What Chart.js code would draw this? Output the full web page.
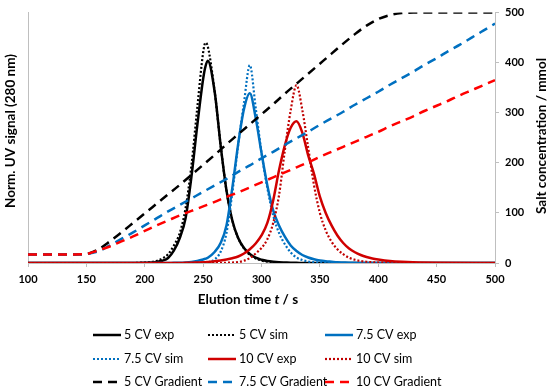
<!DOCTYPE html>
<html>
<head>
<meta charset="utf-8">
<title>Elution profiles</title>
<script src="https://cdn.jsdelivr.net/npm/chart.js@4.4.1/dist/chart.umd.min.js"></script>
<style>
  html, body { margin: 0; padding: 0; background: #fff; }
  #wrap { width: 550px; height: 392px; }
</style>
</head>
<body>
<div id="wrap"><canvas id="chart" width="550" height="392"></canvas></div>
<script>
// ── Data ─────────────────────────────────────────────────────
// elution time for the UV traces, s
const timePeak = [100, 150, 190, 195, 200, 205, 210, 215, 220, 225, 230, 235, 240, 245, 250, 252, 254,
  260, 265, 270, 275, 280, 285, 290, 295, 300, 305, 310, 315, 320, 325, 330, 335, 340, 345, 350,
  355, 360, 365, 370, 375, 380, 385, 390, 395, 400, 410, 420, 450, 500];

// normalised UV signal (left axis, 0..1)
const exp5 = [0, 0, 0, 0, 0.001, 0.002, 0.004, 0.009, 0.02, 0.05, 0.1, 0.18, 0.345, 0.55, 0.735, 0.785, 0.808,
  0.68, 0.47, 0.29, 0.17, 0.1, 0.06, 0.036, 0.021, 0.013, 0.008, 0.005, 0.003, 0.002, 0.001, 0.001,
  0, 0, 0, 0, 0, 0, 0, 0, 0, 0, 0, 0, 0, 0, 0, 0, 0, 0];
const sim5 = [0, 0, 0, 0.001, 0.002, 0.004, 0.008, 0.018, 0.035, 0.07, 0.12, 0.22, 0.39, 0.62, 0.84, 0.88, 0.865,
  0.68, 0.47, 0.29, 0.17, 0.1, 0.058, 0.033, 0.018, 0.01, 0.005, 0.002, 0.001,
  0, 0, 0, 0, 0, 0, 0, 0, 0, 0, 0, 0, 0, 0, 0, 0, 0, 0, 0, 0, 0, 0];
const exp75 = [0, 0, 0, 0, 0, 0, 0, 0, 0, 0.001, 0.001, 0.002, 0.004, 0.008, 0.014, 0.017, 0.021,
  0.045, 0.08, 0.15, 0.3, 0.475, 0.615, 0.678, 0.58, 0.44, 0.31, 0.21, 0.15, 0.105, 0.07, 0.048,
  0.032, 0.022, 0.015, 0.01, 0.007, 0.005, 0.003, 0.002, 0.001, 0.001, 0, 0, 0, 0, 0, 0, 0, 0];
const sim75 = [0, 0, 0, 0, 0, 0, 0, 0, 0, 0, 0, 0, 0, 0.001, 0.002, 0.003, 0.004,
  0.015, 0.045, 0.12, 0.28, 0.47, 0.64, 0.79, 0.62, 0.44, 0.3, 0.19, 0.12, 0.075, 0.042, 0.022,
  0.012, 0.006, 0.003, 0.001, 0, 0, 0, 0, 0, 0, 0, 0, 0, 0, 0, 0, 0, 0];
const exp10 = [0, 0, 0, 0, 0, 0, 0, 0, 0, 0, 0, 0.001, 0.001, 0.002, 0.003, 0.003, 0.004,
  0.007, 0.01, 0.014, 0.019, 0.026, 0.038, 0.055, 0.078, 0.11, 0.16, 0.25, 0.37, 0.47, 0.54, 0.566,
  0.52, 0.43, 0.355, 0.265, 0.2, 0.15, 0.11, 0.08, 0.058, 0.043, 0.032, 0.024, 0.018, 0.014,
  0.008, 0.005, 0.001, 0];
const sim10 = [0, 0, 0, 0, 0, 0, 0, 0, 0, 0, 0, 0, 0, 0, 0, 0, 0,
  0, 0, 0.001, 0.002, 0.004, 0.009, 0.02, 0.038, 0.06, 0.095, 0.16, 0.27, 0.45, 0.61, 0.71,
  0.61, 0.46, 0.31, 0.2, 0.13, 0.085, 0.055, 0.035, 0.021, 0.013, 0.008, 0.005, 0.003, 0.002,
  0.001, 0, 0, 0];

// salt gradients (right axis, mmol)
const timeGrad = [100, 110, 120, 130, 140, 150, 160, 170, 180, 190, 200, 210, 220, 230, 240, 250,
  260, 270, 280, 290, 300, 310, 320, 330, 340, 350, 360, 370, 380, 390, 400, 410, 420, 430, 440,
  450, 460, 470, 480, 490, 500];
const grad5 = [17, 17, 17, 17, 17, 18, 27, 43, 61, 80, 99, 118, 137, 156, 176, 196, 216, 237, 257, 277,
  297, 317, 338, 358, 378, 398, 418, 438, 457, 474, 487, 495, 499, 500, 500, 500, 500, 500, 500, 500, 500];
const grad75 = [17, 17, 17, 17, 17, 18, 23, 35, 48, 61, 75, 89, 103, 116, 129, 142, 155, 168, 182, 195,
  209, 222, 236, 249, 262, 276, 289, 302, 316, 329, 342, 356, 369, 382, 396, 409, 423, 436, 450, 464, 478];
const grad10 = [17, 17, 17, 17, 17, 18, 25, 33, 43, 53, 64, 75, 85, 95, 104, 113, 122, 132, 141, 151,
  161, 171, 181, 191, 201, 212, 222, 232, 242, 252, 262, 273, 283, 293, 304, 314, 324, 335, 345, 355, 365];

const xTicks = { min: 100, max: 500, step: 50 };
const y2Ticks = { min: 0, max: 500, step: 100 };

// ── Style ─────────────────────────────────────────────────────
const BLACK = '#000000';
const BLUE = '#0070C0';
const RED_EXP = '#D00000';
const RED_SIM = '#C00000';
const RED_GRAD = '#FF0000';
const AXIS_GRAY = '#bfbfbf';
const FONT = 'Lato, "Open Sans", sans-serif';

const LEGEND_COLS = [93, 208, 325];
const LEGEND_ROWS = [335, 359, 382];

function pts(xs, ys) {
  return xs.map((x, i) => ({ x, y: ys[i] }));
}

function expLine(label, data, color) {
  return { label, data: pts(timePeak, data), borderColor: color, borderWidth: 2.5,
    borderDash: [], yAxisID: 'y' };
}
function simLine(label, data, color) {
  return { label, data: pts(timePeak, data), borderColor: color, borderWidth: 2.2,
    borderDash: [2, 2], yAxisID: 'y' };
}
function gradLine(label, data, color) {
  return { label, data: pts(timeGrad, data), borderColor: color, borderWidth: 2.5,
    borderDash: [9, 6], yAxisID: 'y2' };
}

const datasets = [
  expLine('5 CV exp', exp5, BLACK),
  simLine('5 CV sim', sim5, BLACK),
  expLine('7.5 CV exp', exp75, BLUE),
  simLine('7.5 CV sim', sim75, BLUE),
  expLine('10 CV exp', exp10, RED_EXP),
  simLine('10 CV sim', sim10, RED_SIM),
  gradLine('5 CV Gradient', grad5, BLACK),
  gradLine('7.5 CV Gradient', grad75, BLUE),
  gradLine('10 CV Gradient', grad10, RED_GRAD)
];
// later series on top, like the original
datasets.forEach((d, i) => {
  d.order = datasets.length - i;
  d.pointRadius = 0;
  d.fill = false;
  d.cubicInterpolationMode = 'monotone';
});

// ── Titles + legend drawn on the canvas ──────────────────────
const decor = {
  id: 'decor',
  afterDraw(chart) {
    const ctx = chart.ctx;
    ctx.save();
    ctx.fillStyle = '#000';
    ctx.textBaseline = 'middle';
    ctx.textAlign = 'center';
    ctx.font = 'bold 13.5px ' + FONT;

    ctx.save();
    ctx.translate(11, 131);
    ctx.rotate(-Math.PI / 2);
    ctx.fillText('Norm. UV signal (280 nm)', 0, 0);
    ctx.restore();

    ctx.save();
    ctx.translate(542, 136);
    ctx.rotate(-Math.PI / 2);
    ctx.fillText('Salt concentration / mmol', 0, 0);
    ctx.restore();

    // x title with italic t
    const parts = [['Elution time ', 'bold'], ['t', 'italic bold'], [' / s', 'bold']];
    let total = 0;
    parts.forEach(p => { ctx.font = p[1] + ' 13.5px ' + FONT; total += ctx.measureText(p[0]).width; });
    let x = 248 - total / 2;
    ctx.textAlign = 'left';
    parts.forEach(p => {
      ctx.font = p[1] + ' 13.5px ' + FONT;
      ctx.fillText(p[0], x, 300);
      x += ctx.measureText(p[0]).width;
    });

    // legend, 3 per row
    chart.data.datasets.forEach((ds, i) => {
      const x0 = LEGEND_COLS[i % 3];
      const y0 = LEGEND_ROWS[Math.floor(i / 3)];
      ctx.beginPath();
      ctx.strokeStyle = ds.borderColor;
      ctx.lineWidth = ds.borderWidth;
      ctx.setLineDash(ds.borderDash);
      ctx.moveTo(x0, y0);
      ctx.lineTo(x0 + 28, y0);
      ctx.stroke();
      ctx.setLineDash([]);
      ctx.font = '12.5px ' + FONT;
      ctx.fillStyle = '#000';
      ctx.fillText(ds.label, x0 + 31, y0);
    });
    ctx.restore();
  }
};

const tickFont = { family: FONT, size: 11, weight: 'bold' };

new Chart(document.getElementById('chart'), {
  type: 'line',
  data: { datasets },
  options: {
    responsive: false,
    devicePixelRatio: 1,
    animation: false,
    layout: { padding: { top: 10, left: 0, right: 0, bottom: 0 } },
    plugins: { legend: { display: false }, tooltip: { enabled: false } },
    scales: {
      x: {
        type: 'linear',
        min: xTicks.min,
        max: xTicks.max,
        afterFit(s) { s.height = 129; },
        ticks: { stepSize: xTicks.step, font: tickFont, color: '#000', padding: 6, maxRotation: 0 },
        grid: { drawOnChartArea: false, tickLength: 4, color: AXIS_GRAY },
        border: { color: AXIS_GRAY }
      },
      y: {
        position: 'left',
        min: 0,
        max: 1,
        afterFit(s) { s.width = 28; },
        ticks: { display: false },
        grid: { display: false },
        border: { display: true, color: AXIS_GRAY }
      },
      y2: {
        position: 'right',
        min: y2Ticks.min,
        max: y2Ticks.max,
        afterFit(s) { s.width = 55; },
        ticks: { stepSize: y2Ticks.step, font: tickFont, color: '#000', padding: 6 },
        grid: { drawOnChartArea: false, tickLength: 4, color: AXIS_GRAY },
        border: { color: AXIS_GRAY }
      }
    }
  },
  plugins: [decor]
});
</script>
</body>
</html>
